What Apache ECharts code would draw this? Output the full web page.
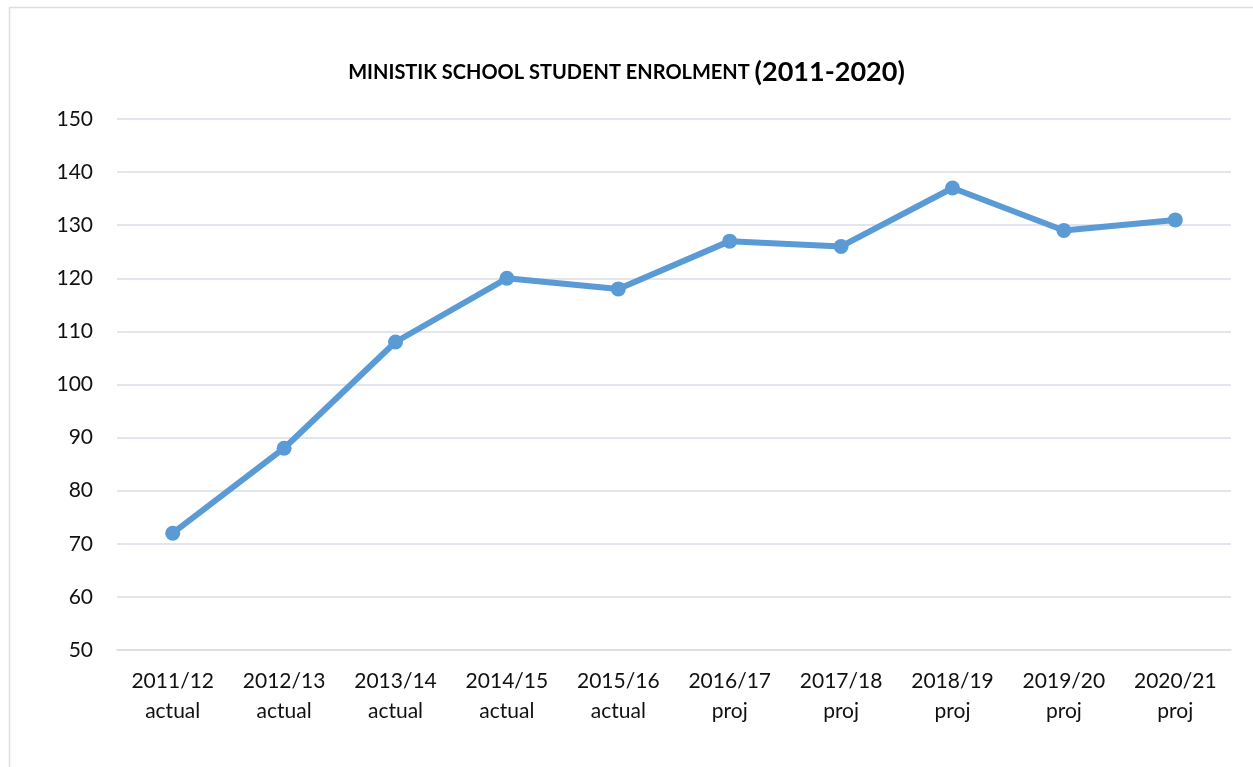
<!DOCTYPE html>
<html><head><meta charset="utf-8">
<script src="https://cdn.jsdelivr.net/npm/echarts@6/dist/echarts.min.js"></script>
<style>html,body{margin:0;padding:0;background:#fff}#c{width:1253px;height:767px}</style>
</head><body><div id="c"></div>
<script>
var categories = ['2011/12\nactual','2012/13\nactual','2013/14\nactual','2014/15\nactual','2015/16\nactual','2016/17\nproj','2017/18\nproj','2018/19\nproj','2019/20\nproj','2020/21\nproj'];
var enrolment = [72, 88, 108, 120, 118, 127, 126, 137, 129, 131];
var yTicks = {min: 50, max: 150, interval: 10};

var chart = echarts.init(document.getElementById('c'));
chart.setOption({
  animation: false,
  backgroundColor: '#fff',
  graphic: [{type:'rect', left:7, top:5, shape:{width:1300, height:800}, style:{fill:'none', stroke:'#d9dde5', lineWidth:1.5}, silent:true}],
  title: {
    text: '{a|MINISTIK SCHOOL STUDENT ENROLMENT }{b|(2011-2020)}',
    left: 'center', top: 54,
    textStyle: {
      rich: {
        a: {fontFamily:'Lato', fontWeight:'bold', fontSize:20, color:'#000'},
        b: {fontFamily:'Lato', fontWeight:'bold', fontSize:27, color:'#000'}
      }
    }
  },
  grid: {left:117, right:22, top:119, bottom:117},
  xAxis: {
    type:'category', data: categories, boundaryGap:true,
    axisLine:{lineStyle:{color:'#d9dde5', width:1.5}},
    axisTick:{alignWithLabel:true, length:6, lineStyle:{color:'#d9dde5', width:1.5}},
    axisLabel:{fontFamily:'Lato', fontSize:21, color:'#111', margin:16, lineHeight:30, interval:0}
  },
  yAxis: {
    type:'value', min:yTicks.min, max:yTicks.max, interval:yTicks.interval,
    axisLine:{show:false}, axisTick:{show:false},
    splitLine:{lineStyle:{color:'#d9dde5', width:1.5}},
    axisLabel:{fontFamily:'Lato', fontSize:21, color:'#111', margin:24}
  },
  series: [{
    type:'line', data: enrolment,
    lineStyle:{color:'#5b9bd5', width:6},
    itemStyle:{color:'#5b9bd5'},
    symbol:'circle', symbolSize:15
  }]
});
</script></body></html>
